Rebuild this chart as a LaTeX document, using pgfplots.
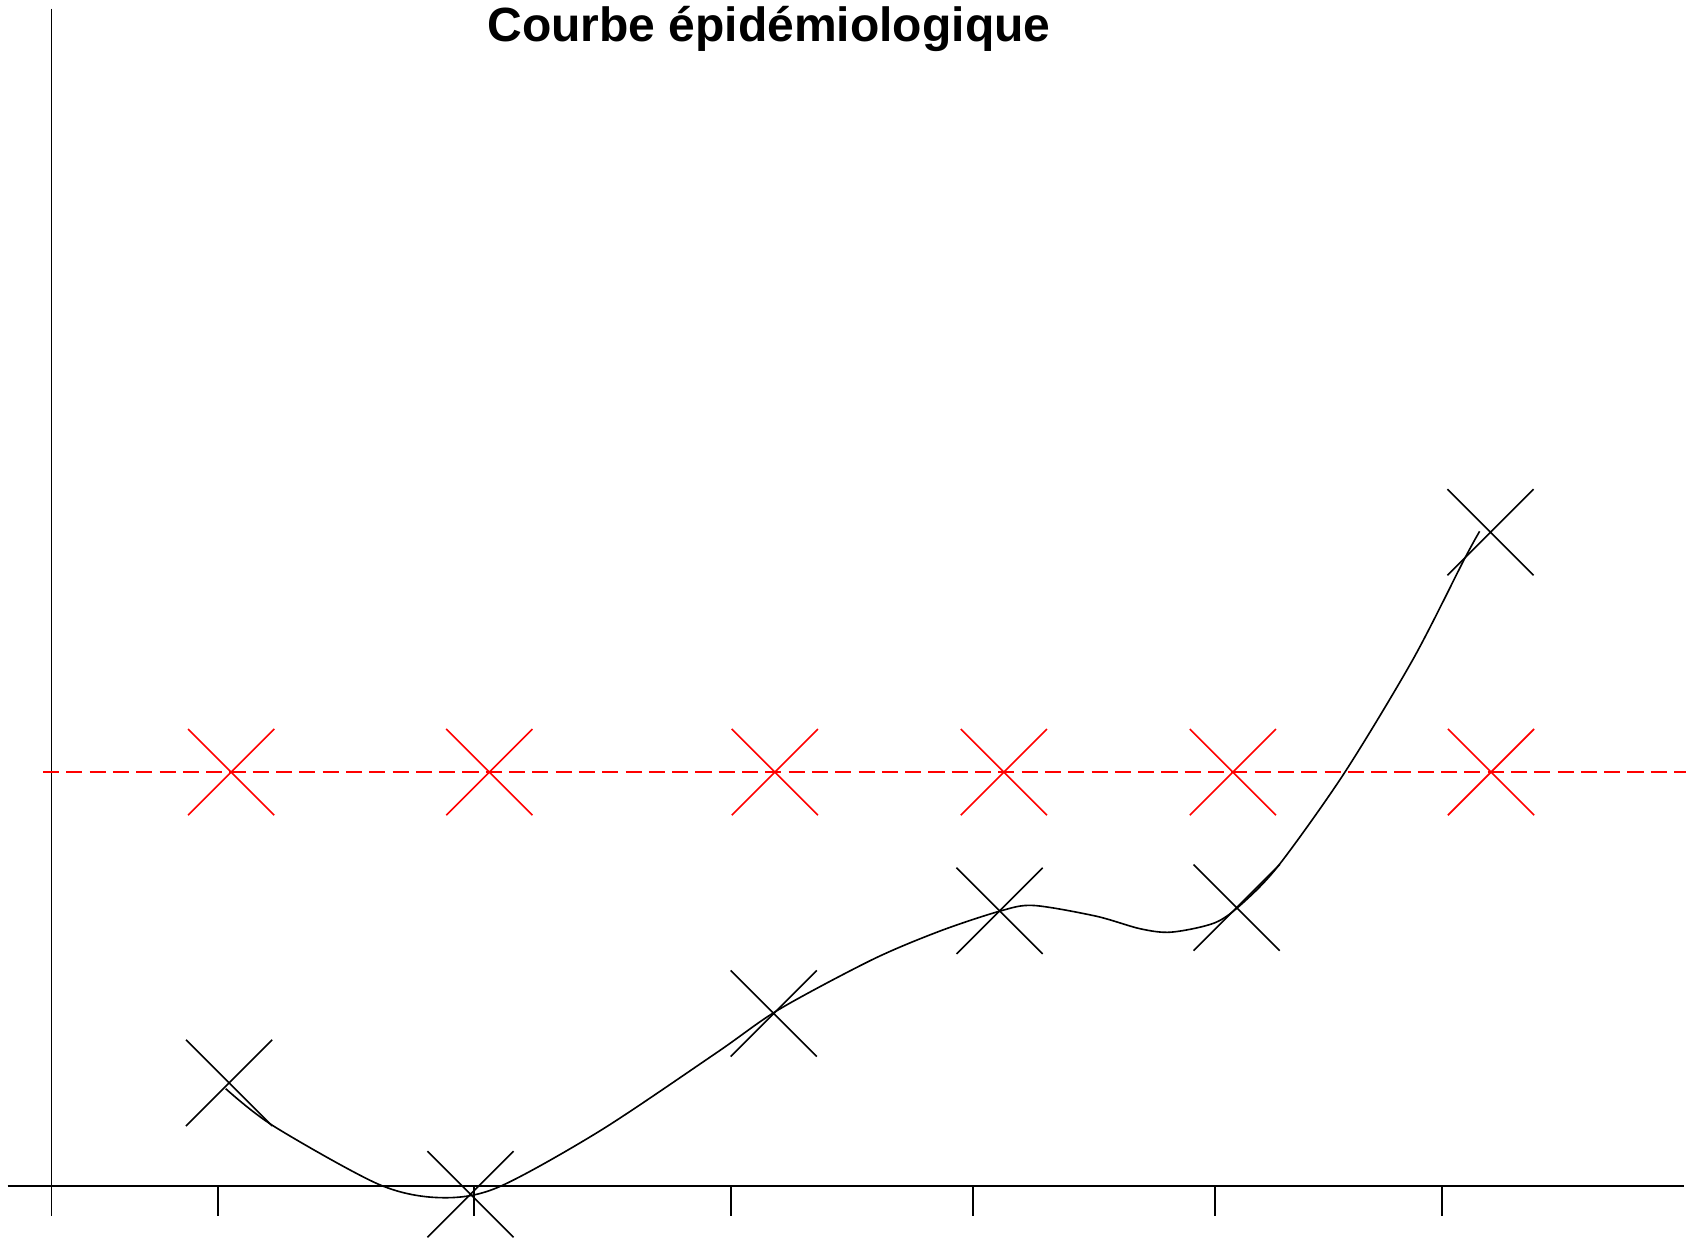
\documentclass[border=0pt]{standalone}
\usepackage{fontspec}
\setmainfont{Liberation Sans}
\usepackage{pgfplots}
\pgfplotsset{compat=1.18}
\begin{document}
\begin{tikzpicture}
\begin{axis}[
    width=470.4pt, height=345.6pt, scale only axis,
    xmin=0, xmax=1568, ymin=0, ymax=1152,
    hide axis, clip=false,
    unbounded coords=jump,
    every axis plot/.append style={line width=0.45pt},
]
% axis lines
\addplot[black, no markers] coordinates {(48,1144) (48,21)};
\addplot[black, no markers] coordinates {(7,49) (1566,49)};
% tick marks
\addplot[black, no markers] coordinates {
(203,49) (203,21) (203,nan)
(441,49) (441,21) (441,nan)
(680,49) (680,21) (680,nan)
(905,49) (905,21) (905,nan)
(1130,49) (1130,21) (1130,nan)
(1341,49) (1341,21)
};
% reference level
\addplot[red, no markers, dash pattern=on 4.5pt off 2pt] coordinates {(40,434) (1568,434)};
\addplot[red, only marks, mark=x, mark size=17pt] coordinates {
(215,434) (455,434) (720.5,434) (933.5,434) (1146.5,434) (1386.5,434)
};
% observed values
\addplot[black, only marks, mark=x, mark size=17pt] coordinates {
(213,145) (437.5,41.5) (719.5,209.5) (929.5,305) (1150,308) (1386,657)
};
% smoothed curve
\addplot[black, no markers, smooth] coordinates {
(209.9,139.6) (254.3,104.9) (352.1,50.7) (409,38.3)
(462.4,47.6) (557.6,100.2) (666.4,173.1)
(724.4,213.3) (811.5,259.8) (873.8,286.1) (929.7,304.7) (961,310)
(1019,300.1) (1060.4,288.3) (1089.5,285.2) (1130,294) (1155.9,312.5)
(1189.7,348.1) (1250.2,433.3) (1313.8,538.6)
(1361.5,631.6) (1375.9,657.9)
};
\node[anchor=base, inner sep=0pt, font=\fontsize{13.4}{16}\selectfont\bfseries] at (axis cs:715,1113) {Courbe épidémiologique};
\end{axis}
\path (current axis.south west) rectangle (current axis.north east);
\end{tikzpicture}
\end{document}
